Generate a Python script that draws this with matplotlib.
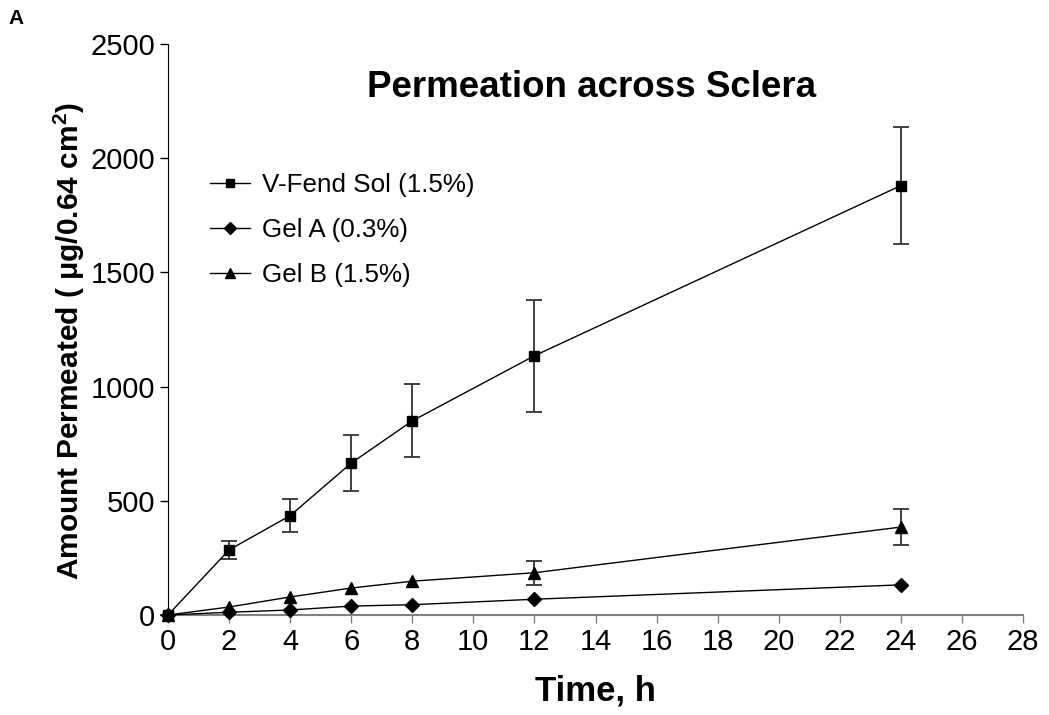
import matplotlib
matplotlib.use("Agg")
import matplotlib.pyplot as plt
from matplotlib.lines import Line2D

plt.rcParams['font.family'] = ['Liberation Sans', 'DejaVu Sans']
plt.rcParams['mathtext.fontset'] = 'custom'
plt.rcParams['mathtext.rm'] = 'Liberation Sans'
plt.rcParams['mathtext.bf'] = 'Liberation Sans:bold'

time_h = [0, 2, 4, 6, 8, 12, 24]
vfend = [0, 285, 435, 665, 850, 1135, 1880]
vfend_err = [0, 38, 72, 123, 160, 245, 255]
gel_a = [0, 12, 22, 39, 45, 69, 132]
gel_b = [0, 35, 79, 118, 148, 185, 385]
gel_b_err = [0, 0, 0, 0, 0, 53, 77]

labels = ['V-Fend Sol (1.5%)', 'Gel A (0.3%)', 'Gel B (1.5%)']
x_ticks = list(range(0, 29, 2))
y_ticks = [0, 500, 1000, 1500, 2000, 2500]

fig = plt.figure(figsize=(10.49, 7.15), dpi=100)
ax = fig.add_axes([168/1049, 1-615/715, (1023-168)/1049, (615-44)/715])

ax.errorbar(time_h, vfend, yerr=vfend_err, color='black', lw=1, marker='s', ms=7,
            ecolor='#333333', elinewidth=1.3, capsize=6, capthick=1.3, clip_on=False, zorder=3)
ax.plot(time_h, gel_a, color='black', lw=1, marker='D', ms=7, clip_on=False, zorder=3)
eb_idx = [i for i, e in enumerate(gel_b_err) if e > 0]
ax.errorbar([time_h[i] for i in eb_idx], [gel_b[i] for i in eb_idx],
            yerr=[gel_b_err[i] for i in eb_idx], fmt='none', ecolor='#333333',
            elinewidth=1.3, capsize=6, capthick=1.3, zorder=2)
ax.plot(time_h, gel_b, color='black', lw=1, marker='^', ms=9, clip_on=False, zorder=3)

ax.set_xlim(0, 28)
ax.set_ylim(0, 2500)
ax.set_xticks(x_ticks)
ax.set_yticks(y_ticks)
ax.tick_params(axis='both', labelsize=21, direction='out', length=6, width=1, pad=3)
ax.tick_params(axis='x', colors='#808080', labelcolor='black')
ax.spines['top'].set_visible(False)
ax.spines['right'].set_visible(False)
ax.spines['bottom'].set_color('#808080')
ax.spines['bottom'].set_linewidth(1.5)
ax.spines['left'].set_color('black')

ax.set_xlabel('Time, h', fontsize=25, fontweight='bold', labelpad=14)
ax.set_ylabel(r'Amount Permeated ( μg/0.64 cm$^{\mathbf{2}}$)', fontsize=21.5,
              fontweight='bold', labelpad=3)
ax.yaxis.label.set_y(0.48)

ax.text(0.495, 0.923, 'Permeation across Sclera', transform=ax.transAxes,
        ha='center', va='center', fontsize=26.5, fontweight='bold')

handles = [
    Line2D([], [], color='black', lw=1, marker='s', ms=6),
    Line2D([], [], color='black', lw=1, marker='D', ms=6),
    Line2D([], [], color='black', lw=1, marker='^', ms=7),
]
ax.legend(handles, labels, loc='upper left', bbox_to_anchor=(0.049, 0.774),
          frameon=False, fontsize=18.7, handlelength=1.55, handletextpad=0.45,
          labelspacing=0.8, borderaxespad=0, borderpad=0)

fig.text(8/1049, 1-18/715, 'A', fontsize=15, fontweight='bold', va='center', ha='left')

fig.savefig('out.png', dpi=100)
